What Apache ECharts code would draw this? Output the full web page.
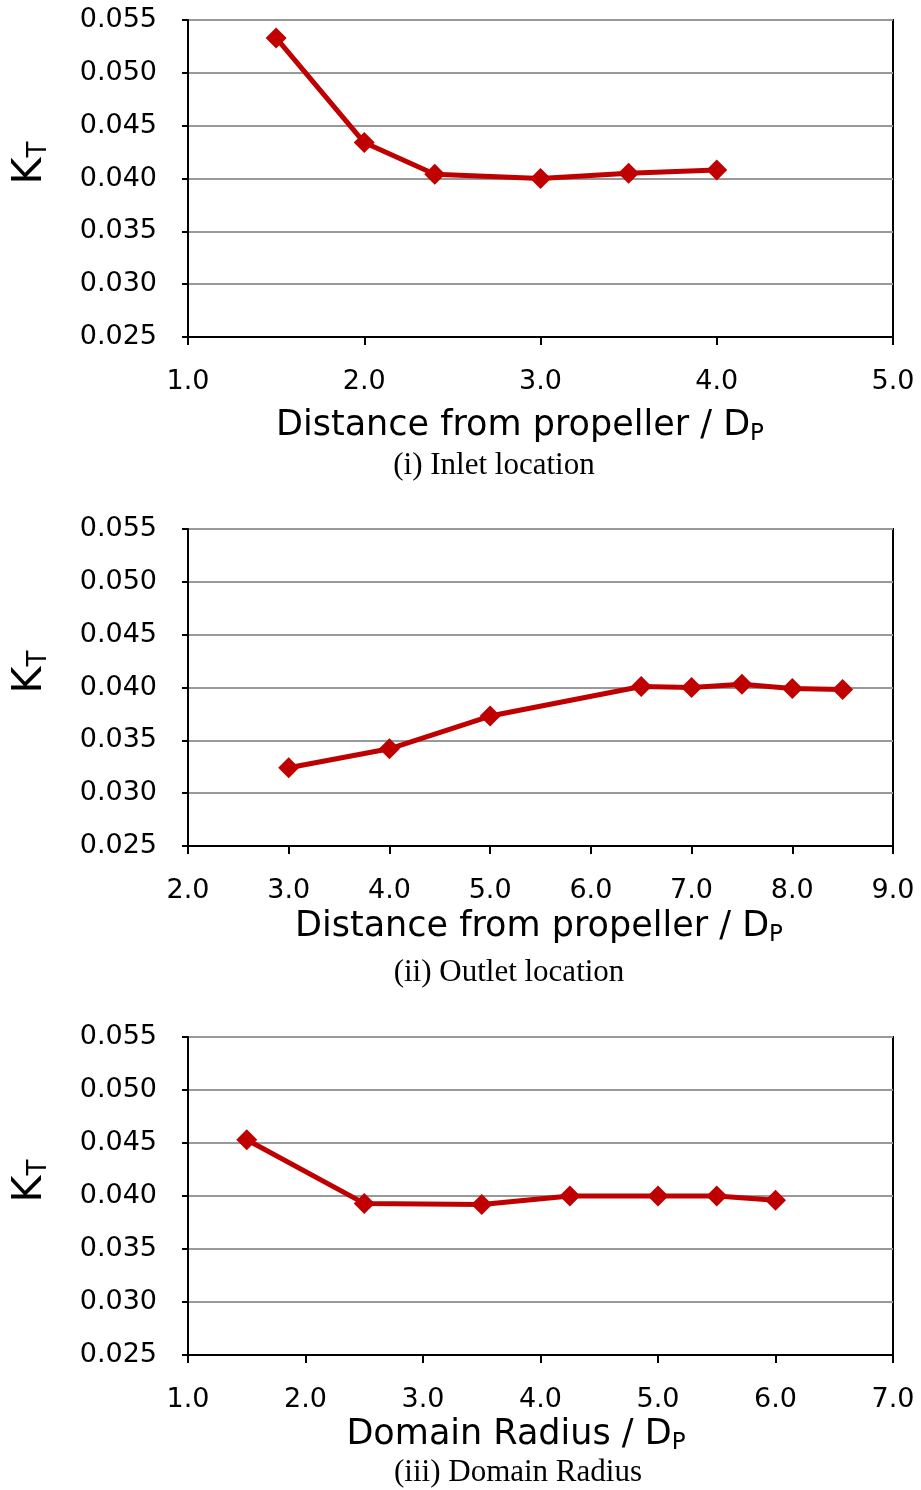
<!DOCTYPE html>
<html><head><meta charset="utf-8">
<script src="https://cdn.jsdelivr.net/npm/echarts@6/dist/echarts.min.js"></script>
<style>html,body{margin:0;padding:0;background:#fff}#c{width:921px;height:1490px}</style>
</head><body><div id="c"></div>
<script>
// Data
const inletX = [1.5, 2.0, 2.4, 3.0, 3.5, 4.0];
const inletKT = [0.0533, 0.0434, 0.0404, 0.0400, 0.0405, 0.0408];
const outletX = [3.0, 4.0, 5.0, 6.5, 7.0, 7.5, 8.0, 8.5];
const outletKT = [0.0324, 0.0342, 0.0373, 0.0401, 0.0400, 0.0403, 0.0399, 0.0398];
const radiusX = [1.5, 2.5, 3.5, 4.25, 5.0, 5.5, 6.0];
const radiusKT = [0.0453, 0.0393, 0.0392, 0.0400, 0.0400, 0.0400, 0.0396];
const xRanges = [[1, 5], [2, 9], [1, 7]];
const yRange = [0.025, 0.055];
const xTitles = ['Distance from propeller / D', 'Distance from propeller / D', 'Domain Radius / D'];
const captions = ['(i) Inlet location', '(ii) Outlet location', '(iii) Domain Radius'];

const SANS = '"DejaVu Sans", sans-serif';
const RED = '#c00000';
const grids = [
  {left: 188, top: 20, width: 705, height: 317},
  {left: 188, top: 529, width: 705, height: 317},
  {left: 188, top: 1037, width: 705, height: 318}
];
const titlePos = [[520, 426], [539, 927], [516, 1435]];
const capPos = [[494, 466], [509, 973], [518, 1473]];
const ktPos = [[30, 163], [30, 672], [30, 1181]];
const seriesData = [[inletX, inletKT], [outletX, outletKT], [radiusX, radiusKT]];

const option = {
  animation: false,
  backgroundColor: '#fff',
  grid: grids.map(g => Object.assign({show: true, borderColor: '#000', borderWidth: 2, backgroundColor: 'transparent'}, g)),
  xAxis: xRanges.map((r, i) => ({
    type: 'value', gridIndex: i, min: r[0], max: r[1], interval: 1,
    axisLine: {show: true, onZero: false, lineStyle: {color: '#000', width: 2}},
    axisTick: {show: true, length: 8, lineStyle: {color: '#000', width: 2}},
    axisLabel: {fontFamily: SANS, fontSize: 27, color: '#000', margin: 31, formatter: v => v.toFixed(1)},
    splitLine: {show: false}
  })),
  yAxis: [0, 1, 2].map(i => ({
    type: 'value', gridIndex: i, min: yRange[0], max: yRange[1], interval: 0.005,
    axisLine: {show: true, onZero: false, lineStyle: {color: '#000', width: 2}},
    axisTick: {show: true, length: 6, lineStyle: {color: '#000', width: 2}},
    axisLabel: {fontFamily: SANS, fontSize: 27, color: '#000', margin: 31, formatter: v => v.toFixed(3)},
    splitLine: {show: true, lineStyle: {color: '#999', width: 2}}
  })),
  series: seriesData.map((d, i) => ({
    type: 'line', xAxisIndex: i, yAxisIndex: i,
    data: d[0].map((x, k) => [x, d[1][k]]),
    symbol: 'diamond', symbolSize: 21,
    lineStyle: {color: RED, width: 5},
    itemStyle: {color: RED},
    z: 5
  })),
  graphic: [].concat(
    titlePos.map((p, i) => ({
      type: 'text', x: p[0], y: p[1],
      style: {
        text: xTitles[i] + '{s|P}',
        font: '35px ' + SANS, fill: '#000',
        textAlign: 'center', textVerticalAlign: 'middle', align: 'center', verticalAlign: 'middle',
        rich: {s: {fontSize: 23, fontFamily: SANS, fill: '#000', color: '#000', verticalAlign: 'bottom', padding: [16, 0, 0, 0]}}
      }
    })),
    capPos.map((p, i) => ({
      type: 'text', x: p[0], y: p[1],
      style: {
        text: captions[i], font: '31px "Liberation Serif", serif', fill: '#000',
        textAlign: 'center', textVerticalAlign: 'middle', align: 'center', verticalAlign: 'middle'
      }
    })),
    ktPos.map(p => ({
      type: 'text', x: p[0], y: p[1], rotation: Math.PI / 2,
      style: {
        text: '{k|K}{t|T}', fill: '#000',
        textAlign: 'center', textVerticalAlign: 'middle', align: 'center', verticalAlign: 'middle',
        rich: {
          k: {fontSize: 41, fontFamily: SANS, fill: '#000', color: '#000'},
          t: {fontSize: 26, fontFamily: SANS, fill: '#000', color: '#000', verticalAlign: 'bottom', padding: [18, 0, 0, 0]}
        }
      }
    }))
  )
};
const chart = echarts.init(document.getElementById('c'), null, {renderer: 'canvas'});
chart.setOption(option);
</script>
</body></html>
